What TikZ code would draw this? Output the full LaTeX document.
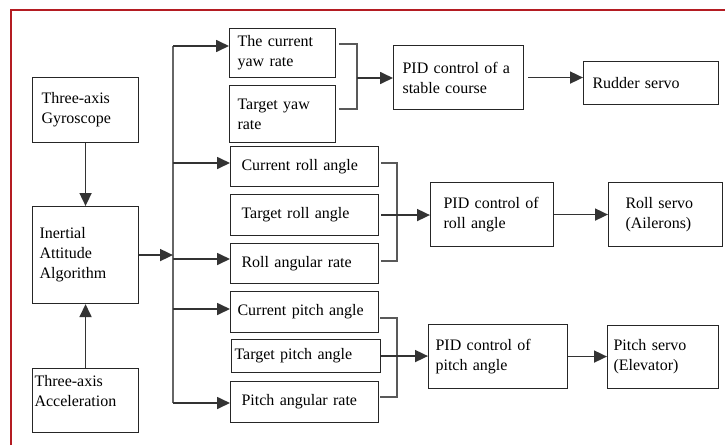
\documentclass[tikz,border=0pt]{standalone}
\usepackage{fontspec}
\setmainfont{Liberation Serif}
\usetikzlibrary{arrows.meta}
\definecolor{framered}{RGB}{180,28,34}
\tikzset{
  box/.style={draw=black!85, line width=1.1pt, anchor=north west, align=left,
    inner ysep=0pt, font=\fontsize{16}{20}\selectfont},
  arr/.style={-{Triangle[length=13pt,width=12pt]}, line width=1.7pt, draw=black!80},
  busline/.style={line width=1.8pt, draw=black!60},
  joinl/.style={line width=1.2pt, draw=black!65},
  frameline/.style={line width=2.2pt, draw=framered}
}
\begin{document}
\begin{tikzpicture}[x=1pt,y=-1pt]
\useasboundingbox (0,0) rectangle (725,445);
\draw[frameline] (11,445) -- (11,10) -- (725,10);

% left column
\node[box, minimum width=106pt, minimum height=65pt, text width=88pt, inner xsep=9pt] (gyro) at (32,77) {Three-axis\\Gyroscope};
\node[box, minimum width=106pt, minimum height=97pt, text width=92pt, inner xsep=7pt] (ins) at (32,206) {Inertial\\Attitude\\Algorithm};
\node[box, minimum width=106pt, minimum height=64pt, text width=102pt, inner xsep=2pt] (acc) at (32,368) {Three-axis\\Acceleration\\\mbox{}};

% middle column
\node[box, minimum width=106pt, minimum height=49pt, text width=90pt, inner xsep=8pt] (cyaw) at (229,28) {The current\\yaw rate};
\node[box, minimum width=106pt, minimum height=57pt, text width=90pt, inner xsep=8pt] (tyaw) at (229,85) {Target yaw\\rate};
\node[box, minimum width=148pt, minimum height=40pt, text width=126pt, inner xsep=11pt] (croll) at (230,146) {Current roll angle};
\node[box, minimum width=148pt, minimum height=41pt, text width=126pt, inner xsep=11pt] (troll) at (230,194) {Target roll angle};
\node[box, minimum width=148pt, minimum height=40pt, text width=126pt, inner xsep=11pt] (rrate) at (230,243) {Roll angular rate};
\node[box, minimum width=148pt, minimum height=41pt, text width=134pt, inner xsep=7pt] (cpitch) at (230,291) {Current pitch angle};
\node[box, minimum width=149pt, minimum height=33pt, text width=143pt, inner xsep=3pt] (tpitch) at (231,339) {Target pitch angle};
\node[box, minimum width=148pt, minimum height=41pt, text width=126pt, inner xsep=11pt] (prate) at (230,381) {Pitch angular rate};

% PID column
\node[box, minimum width=130pt, minimum height=64pt, text width=112pt, inner xsep=9pt] (pyaw) at (393,45) {PID control of a\\stable course};
\node[box, minimum width=123pt, minimum height=64pt, text width=97pt, inner xsep=13pt] (proll) at (430,182) {PID control of\\roll angle};
\node[box, minimum width=139pt, minimum height=64pt, text width=125pt, inner xsep=7pt] (ppitch) at (428,324) {PID control of\\pitch angle};

% servo column
\node[box, minimum width=135pt, minimum height=43pt, text width=117pt, inner xsep=9pt] (rud) at (583,61) {Rudder servo};
\node[box, minimum width=114pt, minimum height=64pt, text width=80pt, inner xsep=17pt] (rserv) at (608,182) {Roll servo\\(Ailerons)};
\node[box, minimum width=111pt, minimum height=63pt, text width=99pt, inner xsep=6pt] (pserv) at (607,325) {Pitch servo\\(Elevator)};

% sensors to algorithm
\draw[arr] (gyro.south) -- (ins.north);
\draw[arr] (acc.north) -- (ins.south);

% bus
\coordinate (bus) at (173,0);
\coordinate (b1) at (173,46);
\coordinate (b2) at (173,163);
\coordinate (b3) at (173,259);
\coordinate (b4) at (173,309);
\coordinate (b5) at (173,403);
\draw[busline] (b1) -- (b5);
\draw[arr] (ins.east) -- (ins.east -| bus);
\draw[arr] (b1) -- (b1 -| cyaw.west);
\draw[arr] (b2) -- (b2 -| croll.west);
\draw[arr] (b3) -- (b3 -| rrate.west);
\draw[arr] (b4) -- (b4 -| cpitch.west);
\draw[arr] (b5) -- (b5 -| prate.west);

% yaw combiner
\coordinate (j1) at (357,44);
\coordinate (j2) at (357,109);
\coordinate (j3) at (357,78);
\draw[joinl] ([xshift=3pt]cyaw.east |- j1) -- (j1) -- (j2) -- ([xshift=3pt]tyaw.east |- j2);
\draw[arr] (j3) -- (j3 -| pyaw.west);

% roll combiner
\coordinate (k1) at (397,163);
\coordinate (k2) at (397,261);
\draw[joinl] ([xshift=2pt]croll.east |- k1) -- (k1) -- (k2) -- ([xshift=2pt]rrate.east |- k2);
\draw[arr] ([xshift=2pt]troll.east) -- (troll.east -| proll.west);

% pitch combiner
\coordinate (m1) at (397,318);
\coordinate (m2) at (397,397);
\draw[joinl] ([xshift=1pt]cpitch.east |- m1) -- (m1) -- (m2) -- ([xshift=1pt]prate.east |- m2);
\draw[arr] (tpitch.east) -- (tpitch.east -| ppitch.west);

% PID to servos
\draw[arr] ([xshift=4pt]pyaw.east) -- (pyaw.east -| rud.west);
\draw[arr] (proll.east) -- (proll.east -| rserv.west);
\draw[arr] (ppitch.east) -- (ppitch.east -| pserv.west);
\end{tikzpicture}
\end{document}
